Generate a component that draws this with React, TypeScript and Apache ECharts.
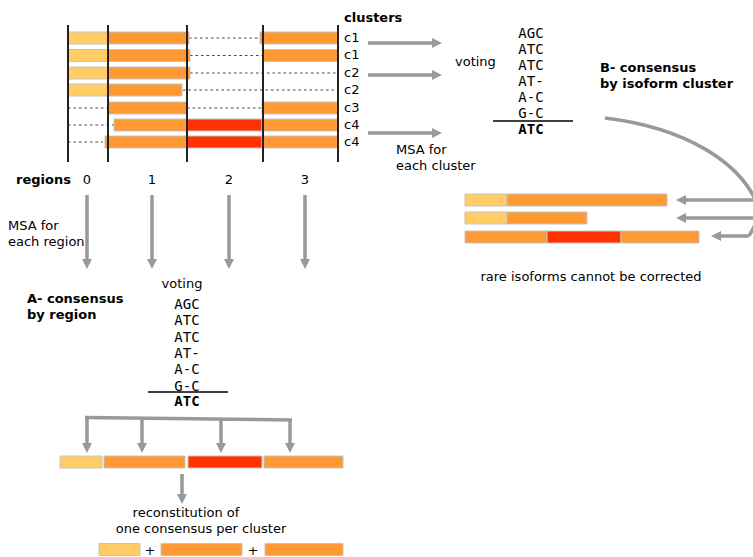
import React, { useEffect, useRef } from "react";
import * as echarts from "echarts";

const W = 753;
const H = 557;

// colours of segment kinds: 0 = first exon (light), 1 = common, 2 = rare
const KIND_COLORS = ["#FFCC66", "#FF9933", "#FF3300"];
const GRAY = "#999999";

// ---- top alignment (reads grouped in clusters) ----
const regionBounds = [68, 108, 187, 263, 338];
const regionLabels = ["0", "1", "2", "3"];
const regionLabelX = [87, 152, 229, 305];
const clusterLabels = ["c1", "c1", "c2", "c2", "c3", "c4", "c4"];
const readRowY = [38, 55.5, 73, 90, 108, 125, 142];
// [start, end, row, kind]
const readSegments = [
  [68, 108, 0, 0], [108, 189, 0, 1], [260, 338, 0, 1],
  [68, 108, 1, 0], [108, 190, 1, 1], [263, 338, 1, 1],
  [68, 108, 2, 0], [108, 190, 2, 1],
  [68, 108, 3, 0], [108, 182, 3, 1],
  [108, 187, 4, 1], [262, 338, 4, 1],
  [114, 187, 5, 1], [187, 262, 5, 2], [262, 338, 5, 1],
  [105, 187, 6, 1], [187, 262, 6, 2], [262, 338, 6, 1],
];
// [start, end, row] of gaps (dotted)
const readGaps = [
  [189, 260, 0], [190, 263, 1], [190, 338, 2], [183, 338, 3],
  [68, 108, 4], [187, 262, 4], [68, 114, 5], [68, 103, 6],
];

// ---- B: consensus by isoform cluster ----
const clusterConsensusY = [200, 218, 237];
const clusterConsensus = [
  [465, 507, 0, 0], [507, 667, 0, 1],
  [465, 507, 1, 0], [507, 587, 1, 1],
  [465, 547, 2, 1], [547, 621, 2, 2], [621, 699, 2, 1],
];
const clusterArrowY = [43, 75, 133];
const returnArrowY = [200, 218, 236];
const returnArrowTip = [676, 676, 711];

// ---- A: consensus by region ----
const regionConsensusY = 462;
const regionConsensus = [
  [60, 102, 0], [104, 185, 1], [188, 262, 2], [264, 343, 1],
];
const bracketDropX = [87, 142, 221, 290];
const reconstitutionY = 549.5;
const reconstitution = [
  [99, 140, 0], [161, 242, 1], [265, 343, 1],
];
const plusX = [150, 253];

// ---- voting alignment ----
const votingRows = ["AGC", "ATC", "ATC", "AT-", "A-C", "G-C"];
const votingResult = "ATC";

const BAR_H = 12;
const SANS = "DejaVu Sans";
const MONO = "DejaVu Sans Mono";

function arrow(x1: number, y1: number, x2: number, y2: number, head = 10, hw = 5, lw = 3.5) {
  const dx = x2 - x1, dy = y2 - y1;
  const len = Math.hypot(dx, dy);
  const ux = dx / len, uy = dy / len;
  const bx = x2 - ux * head, by = y2 - uy * head;
  return [
    { type: "line", shape: { x1, y1, x2: bx + ux * 1, y2: by + uy * 1 }, style: { stroke: GRAY, lineWidth: lw } },
    {
      type: "polygon",
      shape: { points: [[x2, y2], [bx - uy * hw, by + ux * hw], [bx + uy * hw, by - ux * hw]] },
      style: { fill: GRAY },
    },
  ];
}

function txt(text: string, x: number, y: number, opts: any = {}) {
  const align = opts.align || "left";
  return {
    type: "text",
    z: 10,
    style: {
      text,
      x,
      y,
      fill: "#000",
      fontSize: opts.size || 13,
      fontFamily: opts.family || SANS,
      fontWeight: opts.bold ? "bold" : "normal",
      textAlign: align,
      align,
      textVerticalAlign: "middle",
      verticalAlign: "middle",
    },
  };
}

function votingBlock(cx: number, y0: number, step: number, lineY: number, lineX0: number, lineX1: number, resY: number) {
  const els: any[] = votingRows.map((r, i) => txt(r, cx, y0 + i * step, { align: "center", family: MONO, size: 14 }));
  els.push({ type: "line", shape: { x1: lineX0, y1: lineY, x2: lineX1, y2: lineY }, style: { stroke: "#000", lineWidth: 1.5 } });
  els.push(txt(votingResult, cx, resY, { align: "center", family: MONO, size: 14, bold: true }));
  return els;
}

export default function App() {
  const ref = useRef<HTMLDivElement>(null);
  useEffect(() => {
    if (!ref.current) return;
    const chart = echarts.init(ref.current, null, { renderer: "svg" });

    const barData: number[][] = [];
    readSegments.forEach((s) => barData.push([s[0], s[1], readRowY[s[2]], s[3]]));
    clusterConsensus.forEach((s) => barData.push([s[0], s[1], clusterConsensusY[s[2]], s[3]]));
    regionConsensus.forEach((s) => barData.push([s[0], s[1], regionConsensusY, s[2]]));
    reconstitution.forEach((s) => barData.push([s[0], s[1], reconstitutionY, s[2]]));

    const gapData = readGaps.map((g) => [g[0], g[1], readRowY[g[2]]]);
    const boundData = regionBounds.map((x) => [x, 25, 162]);

    const graphics: any[] = [];
    // texts top
    graphics.push(txt("clusters", 344, 17, { bold: true }));
    clusterLabels.forEach((c, i) => graphics.push(txt(c, 344, readRowY[i] - 1)));
    clusterArrowY.forEach((y) => graphics.push(...arrow(368, y, 442, y)));
    graphics.push(txt("voting", 455, 61));
    graphics.push(txt("MSA for", 396, 149));
    graphics.push(txt("each cluster", 396, 165));
    graphics.push(...votingBlock(531, 33, 16, 121, 493, 573, 129));
    graphics.push(txt("B- consensus", 600, 67, { bold: true }));
    graphics.push(txt("by isoform cluster", 600, 83, { bold: true }));
    // curved arrow on the right
    graphics.push({
      type: "bezierCurve",
      shape: { x1: 605, y1: 118, cpx1: 680, cpy1: 127, cpx2: 745, cpy2: 160, x2: 761, y2: 214 },
      style: { stroke: GRAY, lineWidth: 3.5, fill: null },
    });
    graphics.push({ type: "line", shape: { x1: 761, y1: 214, x2: 749, y2: 236 }, style: { stroke: GRAY, lineWidth: 3.5 } });
    returnArrowY.forEach((y, i) => graphics.push(...arrow(i === 2 ? 749 : 760, y, returnArrowTip[i], y)));
    graphics.push(txt("rare isoforms cannot be corrected", 591, 276, { align: "center" }));

    // regions
    graphics.push(txt("regions", 16, 179, { bold: true }));
    regionLabels.forEach((l, i) => graphics.push(txt(l, regionLabelX[i], 179, { align: "center" })));
    regionLabelX.forEach((x) => graphics.push(...arrow(x, 195, x, 269)));
    graphics.push(txt("MSA for", 8, 225));
    graphics.push(txt("each region", 8, 241));
    graphics.push(txt("voting", 182, 283, { align: "center" }));
    graphics.push(txt("A- consensus", 27, 298, { bold: true }));
    graphics.push(txt("by region", 27, 314, { bold: true }));
    graphics.push(...votingBlock(187, 304, 16.3, 392, 148, 228, 401));
    // bracket
    graphics.push({
      type: "polyline",
      shape: { points: [[85, 417.5], [292, 420]] },
      style: { stroke: GRAY, lineWidth: 3.5, fill: null },
    });
    bracketDropX.forEach((x, i) => {
      const y0 = 417.5 + (2.5 * (x - 85)) / 207;
      graphics.push(...arrow(x, y0, x, 453));
    });
    graphics.push(...arrow(182, 474, 182, 504));
    graphics.push(txt("reconstitution of", 186, 512, { align: "center" }));
    graphics.push(txt("one consensus per cluster", 201, 528, { align: "center" }));
    plusX.forEach((x) => graphics.push(txt("+", x, 550, { align: "center" })));

    chart.setOption({
      animation: false,
      grid: { left: 0, right: 0, top: 0, bottom: 0 },
      xAxis: { type: "value", min: 0, max: W, show: false },
      yAxis: { type: "value", min: 0, max: H, inverse: true, show: false },
      series: [
        {
          type: "custom",
          z: 1,
          data: gapData,
          renderItem: (_p: any, api: any) => {
            const a = api.coord([api.value(0), api.value(2)]);
            const b = api.coord([api.value(1), api.value(2)]);
            return {
              type: "line",
              shape: { x1: a[0], y1: a[1], x2: b[0], y2: b[1] },
              style: { stroke: "#444", lineWidth: 1, lineDash: [2.5, 3] },
            };
          },
        },
        {
          type: "custom",
          z: 2,
          data: barData,
          renderItem: (_p: any, api: any) => {
            const a = api.coord([api.value(0), api.value(2)]);
            const b = api.coord([api.value(1), api.value(2)]);
            const hh = Math.abs(api.size([0, BAR_H])[1]);
            return {
              type: "rect",
              shape: { x: a[0], y: a[1] - hh / 2, width: b[0] - a[0], height: hh },
              style: { fill: KIND_COLORS[api.value(3)], stroke: "#c4c4c4", lineWidth: 1 },
            };
          },
        },
        {
          type: "custom",
          z: 3,
          data: boundData,
          renderItem: (_p: any, api: any) => {
            const a = api.coord([api.value(0), api.value(1)]);
            const b = api.coord([api.value(0), api.value(2)]);
            return {
              type: "line",
              shape: { x1: a[0], y1: a[1], x2: b[0], y2: b[1] },
              style: { stroke: "#222", lineWidth: 2 },
            };
          },
        },
      ],
      graphic: { elements: graphics },
    });
    return () => chart.dispose();
  }, []);
  return (
    <div
      ref={ref}
      style={{ position: "absolute", left: 0, top: 0, width: W, height: H, background: "#fff" }}
    />
  );
}
